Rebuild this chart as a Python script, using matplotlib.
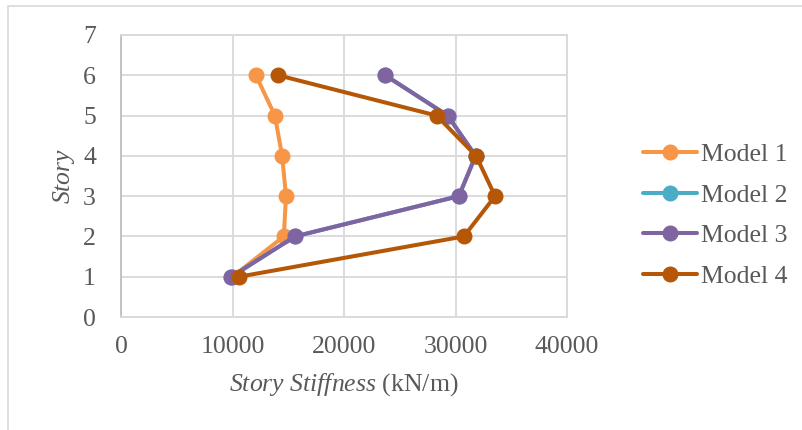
import matplotlib
matplotlib.use("Agg")
import matplotlib.pyplot as plt
from matplotlib.patches import Rectangle

stories = [1, 2, 3, 4, 5, 6]
model_1 = [10000, 14600, 14800, 14450, 13800, 12100]
model_2 = [9900, 15600, 30300, 31800, 29300, 23700]
model_3 = [9900, 15600, 30300, 31800, 29300, 23700]
model_4 = [10600, 30750, 33550, 31850, 28300, 14100]

names = ["Model 1", "Model 2", "Model 3", "Model 4"]
colors = ["#F79646", "#4BACC6", "#8064A2", "#B65708"]
text_col = "#595959"
grid_col = "#D9D9D9"

plt.rcParams['font.family'] = ['Liberation Serif', 'DejaVu Serif']
plt.rcParams['mathtext.fontset'] = 'custom'
plt.rcParams['mathtext.rm'] = 'Liberation Serif'
plt.rcParams['mathtext.it'] = 'Liberation Serif:italic'

fig = plt.figure(figsize=(8.02, 4.30), dpi=100)
ax = fig.add_axes([121 / 802, 1 - 317 / 430, 446 / 802, 282 / 430])

# outer chart border
fig.patches.append(Rectangle((8 / 802, -0.1), 1.2, 1 - 6 / 430 + 0.1,
                             transform=fig.transFigure, fill=False,
                             edgecolor=grid_col, linewidth=1.2))

for vals, name, c in zip([model_1, model_2, model_3, model_4], names, colors):
    ax.plot(vals, stories, color=c, lw=2.9, marker="o", markersize=10.5,
            label=name, solid_capstyle="round")

ax.set_xlim(0, 40000)
ax.set_ylim(0, 7)
ax.set_xticks([0, 10000, 20000, 30000, 40000])
ax.set_yticks(range(8))
ax.grid(True, color=grid_col, lw=1.3)
ax.set_axisbelow(True)
for s in ["top", "right", "bottom"]:
    ax.spines[s].set_color(grid_col)
    ax.spines[s].set_linewidth(1.3)
ax.spines["left"].set_color("#BFBFBF")
ax.spines["left"].set_linewidth(1.3)
ax.tick_params(length=0, labelsize=18.5, labelcolor=text_col)
ax.tick_params(axis="y", pad=18)
ax.tick_params(axis="x", pad=14)

ax.set_xlabel("$\\mathit{Story\\ Stiffness}$ (kN/m)", fontsize=18.5, color=text_col, labelpad=9)
ax.set_ylabel("Story", fontsize=18.5, color=text_col, style="italic", labelpad=6)

ax.legend(loc="center left", bbox_to_anchor=(1.118, 0.36), frameon=False,
          fontsize=18.5, labelcolor=text_col, handlelength=2.1, handletextpad=0.15,
          labelspacing=0.68)

fig.savefig("out.png", dpi=100)
